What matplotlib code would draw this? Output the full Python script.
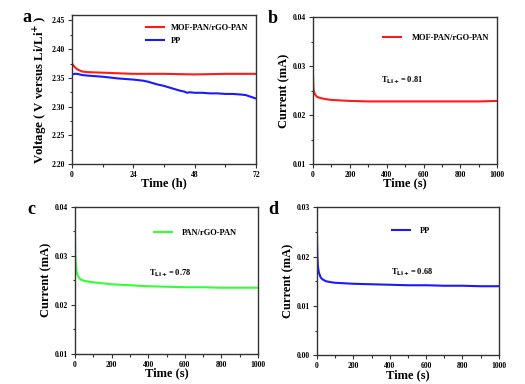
import matplotlib
matplotlib.use("Agg")
import matplotlib.pyplot as plt
from matplotlib.ticker import MultipleLocator, AutoMinorLocator

plt.rcParams['font.family'] = ['Liberation Serif', 'DejaVu Serif']
plt.rcParams['font.weight'] = 'bold'

# panel a: voltage vs time
t_a_red = [0, 0.5, 1, 2, 3, 4, 6, 9, 12, 18, 24, 30, 36, 42, 48, 54, 60, 66, 72]
v_red = [2.375, 2.372, 2.369, 2.365, 2.363, 2.361, 2.360, 2.3595, 2.359, 2.358, 2.357, 2.357,
         2.357, 2.3565, 2.356, 2.3565, 2.357, 2.357, 2.357]
t_a_blue = [0, 1, 2, 4, 6, 9, 12, 18, 24, 28, 30, 33, 36, 39, 42, 44, 45, 46, 48, 51, 54,
            57, 60, 63, 66, 68, 70, 72]
v_blue = [2.356, 2.357, 2.357, 2.355, 2.354, 2.353, 2.352, 2.349, 2.347, 2.345, 2.343, 2.339,
          2.336, 2.332, 2.328, 2.326, 2.324, 2.325, 2.324, 2.324, 2.323, 2.323, 2.322, 2.322,
          2.321, 2.320, 2.317, 2.314]

# panels b-d: current vs time
t_s = [0, 2, 5, 10, 20, 30, 50, 80, 100, 150, 200, 300, 400, 500, 600, 700, 800, 900, 1000]
i_mof = [0.0282, 0.0255, 0.0248, 0.0243, 0.0238, 0.0236, 0.0234, 0.0232, 0.0231, 0.0230,
         0.0229, 0.0228, 0.0228, 0.0228, 0.0228, 0.0228, 0.0228, 0.0228, 0.0229]
i_pan = [0.0338, 0.0300, 0.0280, 0.0265, 0.0256, 0.0252, 0.0249, 0.0247, 0.0246, 0.0244,
         0.0242, 0.0240, 0.0238, 0.0237, 0.0236, 0.0236, 0.0235, 0.0235, 0.0235]
i_pp = [0.0240, 0.0200, 0.0180, 0.0168, 0.0158, 0.0154, 0.0150, 0.0148, 0.0147, 0.0146,
        0.0145, 0.0144, 0.0143, 0.0142, 0.0142, 0.0141, 0.0141, 0.0140, 0.0140]

fig = plt.figure(figsize=(5.25, 3.84), dpi=100)
W, H = 525, 384


def make_ax(l, r, t, b):
    ax = fig.add_axes([l / W, 1 - b / H, (r - l) / W, (b - t) / H])
    for s in ax.spines.values():
        s.set_color('#333333')
        s.set_linewidth(1.0)
    ax.tick_params(which='both', direction='out', top=False, right=False,
                   labelsize=5.5, width=0.8, color='#333333', pad=2)
    ax.tick_params(which='major', length=3)
    ax.tick_params(which='minor', length=1.8)
    return ax


def style_labels(ax, xlabel, ylabel, ysize=9):
    ax.set_xlabel(xlabel, fontsize=9, fontweight='bold', labelpad=-1)
    ax.set_ylabel(ylabel, fontsize=ysize, fontweight='bold', labelpad=1.5)
    for lab in ax.get_xticklabels() + ax.get_yticklabels():
        lab.set_fontweight('bold')


# a
ax = make_ax(72, 256, 14.7, 164)
ax.plot(t_a_red, v_red, color='#ff1a1a', lw=1.5, label='MOF-PAN/rGO-PAN')
ax.plot(t_a_blue, v_blue, color='#1a1aff', lw=1.5, label='PP')
ax.set_xlim(0, 72)
ax.set_ylim(2.20, 2.46)
ax.xaxis.set_major_locator(MultipleLocator(24))
ax.xaxis.set_minor_locator(AutoMinorLocator(2))
ax.set_yticks([2.20, 2.25, 2.30, 2.35, 2.40, 2.45])
ax.yaxis.set_minor_locator(AutoMinorLocator(2))
style_labels(ax, 'Time (h)', 'Voltage ( V versus Li/Li$^{+}$ )', ysize=9.3)
ax.legend(loc='upper left', bbox_to_anchor=(0.36, 0.99), frameon=False,
          handlelength=2.2, handletextpad=0.8, labelspacing=0.6, prop={'weight': 'bold', 'size': 6})
fig.text(22 / W, 1 - 22 / H, 'a', fontsize=13, fontweight='bold')


def current_panel(l, r, t, b, x, y, color, label, ylim, yticks, tli, leg_xy, txt_xy, letter, letter_xy):
    ax = make_ax(l, r, t, b)
    ax.plot(x, y, color=color, lw=1.5, label=label)
    ax.set_xlim(0, 1000)
    ax.set_ylim(*ylim)
    ax.set_yticks(yticks)
    ax.xaxis.set_major_locator(MultipleLocator(200))
    ax.xaxis.set_minor_locator(AutoMinorLocator(2))
    ax.yaxis.set_minor_locator(AutoMinorLocator(2))
    style_labels(ax, 'Time (s)', 'Current (mA)')
    ax.legend(loc='center left', bbox_to_anchor=leg_xy, frameon=False,
              handlelength=2.2, handletextpad=1.2, prop={'weight': 'bold', 'size': 6})
    ax.text(txt_xy[0], txt_xy[1], 'T$_{\\mathbf{Li+}}$= ' + tli, transform=ax.transAxes,
            fontsize=6, fontweight='bold', va='center')
    fig.text(letter_xy[0] / W, 1 - letter_xy[1] / H, letter, fontsize=13, fontweight='bold')
    return ax


current_panel(313, 497.3, 17.3, 164, t_s, i_mof, '#ff1a1a', 'MOF-PAN/rGO-PAN',
              (0.01, 0.04), [0.01, 0.02, 0.03, 0.04], '0.81', (0.34, 0.86), (0.37, 0.57),
              'b', (268, 23))
current_panel(75, 258, 206.7, 354, t_s, i_pan, '#33ff33', 'PAN/rGO-PAN',
              (0.01, 0.04), [0.01, 0.02, 0.03, 0.04], '0.78', (0.39, 0.82), (0.405, 0.545),
              'c', (27, 214))
current_panel(317, 498.7, 207.3, 355.3, t_s, i_pp, '#1a1aff', 'PP',
              (0.0, 0.03), [0.00, 0.01, 0.02, 0.03], '0.68', (0.37, 0.84), (0.41, 0.563),
              'd', (268, 214))

fig.savefig('out.png', dpi=100)
